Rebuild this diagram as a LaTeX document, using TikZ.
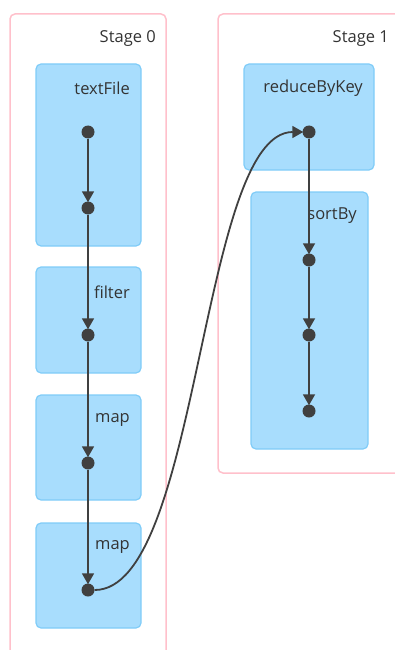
\documentclass[tikz,border=0pt]{standalone}
\usepackage{fontspec}
\setmainfont{Open Sans}
\usetikzlibrary{arrows.meta}
\definecolor{boxfill}{HTML}{A8DDFD}
\definecolor{boxline}{HTML}{80CCF8}
\definecolor{stageline}{HTML}{FFC0CB}
\definecolor{ink}{HTML}{404040}
\definecolor{txt}{HTML}{333333}
\begin{document}
\begin{tikzpicture}[x=1pt,y=-1pt,
  stagebox/.style={draw=stageline,line width=1.5pt,rounded corners=5pt},
  opbox/.style={draw=boxline,fill=boxfill,line width=1.2pt,rounded corners=5pt},
  lbl/.style={anchor=east,text=txt,font=\fontsize{16.5}{20}\selectfont,inner sep=0pt},
  dot/.style={circle,fill=ink,minimum size=13pt,inner sep=0pt},
  flow/.style={draw=ink,line width=1.8pt,-{Triangle[length=11pt,width=12pt]},shorten >=-1pt}]
\useasboundingbox (0,0) rectangle (395,650);
\clip (0,0) rectangle (395,650);
% stages
\draw[stagebox] (10,14) rectangle (166,670);
\node[lbl] (s0) at (156,39) {Stage 0};
\draw[stagebox] (218,14) rectangle (420,473);
\node[lbl] (s1) at (389,39) {Stage 1};
% stage 0 boxes
\draw[opbox] (36,64) rectangle (141,246);
\node[lbl] (tf) at (130,88) {textFile};
\draw[opbox] (36,267) rectangle (141,373);
\node[lbl] (fi) at (130,292) {filter};
\draw[opbox] (36,395) rectangle (141,500);
\node[lbl] (m1) at (130,420) {map};
\draw[opbox] (36,523) rectangle (141,628);
\node[lbl] (m2) at (130,547) {map};
% stage 1 boxes
\draw[opbox] (244,64) rectangle (374,170);
\node[lbl] (rb) at (363,88) {reduceByKey};
\draw[opbox] (251,192) rectangle (368,449);
\node[lbl] (sb) at (357,216) {sortBy};
% dots
\node[dot] (a1) at (88,132) {};
\node[dot] (a2) at (88,208) {};
\node[dot] (a3) at (88,335) {};
\node[dot] (a4) at (88,463) {};
\node[dot] (a5) at (88,590) {};
\node[dot] (b1) at (309,132) {};
\node[dot] (b2) at (309,260) {};
\node[dot] (b3) at (309,335) {};
\node[dot] (b4) at (309,411) {};
% connectors
\draw[flow] (a1) -- (a2);
\draw[flow] (a2) -- (a3);
\draw[flow] (a3) -- (a4);
\draw[flow] (a4) -- (a5);
\draw[flow] (b1) -- (b2);
\draw[flow] (b2) -- (b3);
\draw[flow] (b3) -- (b4);
\draw[flow] (a5.east) .. controls (200,590) and (200,132) .. (b1.west);
\end{tikzpicture}
\end{document}
